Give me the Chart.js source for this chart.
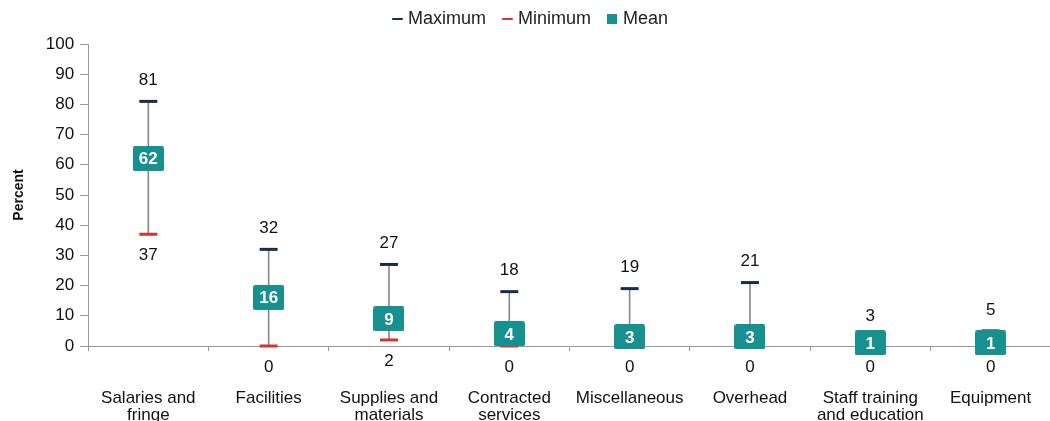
<!DOCTYPE html>
<html>
<head>
<meta charset="utf-8">
<script src="https://cdn.jsdelivr.net/npm/chart.js@4"></script>
<style>
  html, body { margin: 0; padding: 0; background: #fff; overflow: hidden; }
  #wrap { width: 1050px; height: 421px; overflow: hidden; }
</style>
</head>
<body>
<div id="wrap"><canvas id="chart" width="1071" height="463"></canvas></div>
<script>
const categories = [
    ['Salaries and', 'fringe'], 'Facilities', ['Supplies and', 'materials'], ['Contracted', 'services'],
    'Miscellaneous', 'Overhead', ['Staff training', 'and education'], 'Equipment'
];
const maxValues = [81, 32, 27, 18, 19, 21, 3, 5];
const minValues = [37, 0, 2, 0, 0, 0, 0, 0];
const meanValues = [62, 16, 9, 4, 3, 3, 1, 1];
const yTicks = [0, 10, 20, 30, 40, 50, 60, 70, 80, 90, 100];

const teal = '#17918f';
const navy = '#1b2b4b';
const red = '#d2372c';
const font = "'Liberation Sans', Arial, sans-serif";

function square(w, h, r) {
    const cv = document.createElement('canvas');
    cv.width = w; cv.height = h;
    const c = cv.getContext('2d');
    c.fillStyle = teal;
    c.beginPath();
    c.roundRect(0, 0, w, h, r);
    c.fill();
    return cv;
}
const box = square(31, 25, 2);      // mean marker
const legendBox = square(10, 10, 0); // mean marker in legend

// legend: wider item gaps but keep it close to the top
const legendGap = {
    id: 'legendGap',
    beforeInit(chart) {
        const fit = chart.legend.fit;
        chart.legend.fit = function () {
            fit.bind(chart.legend)();
            this.height -= 4;
        };
    },
    afterLayout(chart) {
        chart.legend.top -= 10;
        chart.legend.bottom -= 10;
        chart.legend.left -= 9;
        chart.legend.right -= 9;
    }
};

const valueLabels = {
    id: 'valueLabels',
    afterDatasetsDraw(chart) {
        const c = chart.ctx;
        c.save();
        c.textAlign = 'center';
        c.textBaseline = 'middle';
        c.font = '17px ' + font;
        c.fillStyle = '#111';
        chart.getDatasetMeta(0).data.forEach((p, i) => c.fillText(maxValues[i], p.x, p.y - 21));
        chart.getDatasetMeta(1).data.forEach((p, i) => c.fillText(minValues[i], p.x, p.y + 21));
        c.font = 'bold 17px ' + font;
        c.fillStyle = '#fff';
        chart.getDatasetMeta(2).data.forEach((p, i) => c.fillText(meanValues[i], p.x, p.y + 1));
        c.restore();
    }
};

const ctx = document.getElementById('chart').getContext('2d');
const chart = new Chart(ctx, {
    type: 'bar',
    data: {
        labels: categories,
        datasets: [{
            type: 'line',
            label: 'Maximum',
            data: maxValues,
            showLine: false,
            pointStyle: 'line',
            pointRadius: 9,
            pointBorderWidth: 3,
            borderColor: navy,
            backgroundColor: navy,
            clip: false,
            order: 1
        }, {
            type: 'line',
            label: 'Minimum',
            data: minValues,
            showLine: false,
            pointStyle: 'line',
            pointRadius: 9,
            pointBorderWidth: 3,
            borderColor: red,
            backgroundColor: red,
            clip: false,
            order: 1
        }, {
            type: 'line',
            label: 'Mean',
            data: meanValues,
            showLine: false,
            pointStyle: box,
            borderColor: teal,
            backgroundColor: teal,
            clip: false,
            order: 0
        }, {
            label: 'range',
            data: minValues.map((v, i) => [v, maxValues[i]]),
            backgroundColor: '#8a8a8a',
            barThickness: 1,
            borderWidth: 0,
            borderSkipped: false,
            order: 2
        }]
    },
    options: {
        responsive: false,
        animation: false,
        layout: { padding: { top: 0, left: 11, right: 0, bottom: 0 } },
        plugins: {
            tooltip: { enabled: false },
            legend: {
                position: 'top',
                labels: {
                    usePointStyle: true,
                    boxWidth: 3,
                    boxHeight: 7.5,
                    padding: 20,
                    color: '#222',
                    font: { family: font, size: 18 },
                    filter: (item) => item.text !== 'range',
                    sort: (a, b) => a.datasetIndex - b.datasetIndex,
                    generateLabels(chart) {
                        const items = Chart.defaults.plugins.legend.labels.generateLabels(chart);
                        items.forEach((it) => {
                            if (it.text === 'Mean') { it.pointStyle = legendBox; }
                            else { it.lineWidth = 2; }
                        });
                        return items;
                    }
                }
            }
        },
        scales: {
            x: {
                offset: true,
                grid: { offset: true, drawOnChartArea: false, color: '#999', tickLength: 5 },
                border: { color: '#999' },
                ticks: { color: '#111', padding: 39, maxRotation: 0, font: { family: font, size: 17, lineHeight: 1.0 } }
            },
            y: {
                min: 0,
                max: 100,
                afterBuildTicks: (axis) => { axis.ticks = yTicks.map((v) => ({ value: v })); },
                grid: { drawOnChartArea: false, color: '#999', tickLength: 8 },
                border: { color: '#999' },
                ticks: { color: '#111', padding: 6, font: { family: font, size: 17 } },
                title: {
                    display: true,
                    text: 'Percent',
                    color: '#111',
                    padding: { top: 0, bottom: 12 },
                    font: { family: "'Liberation Sans Narrow', " + font, size: 14, weight: 'bold' }
                }
            }
        }
    },
    plugins: [valueLabels, legendGap]
});
</script>
</body>
</html>
